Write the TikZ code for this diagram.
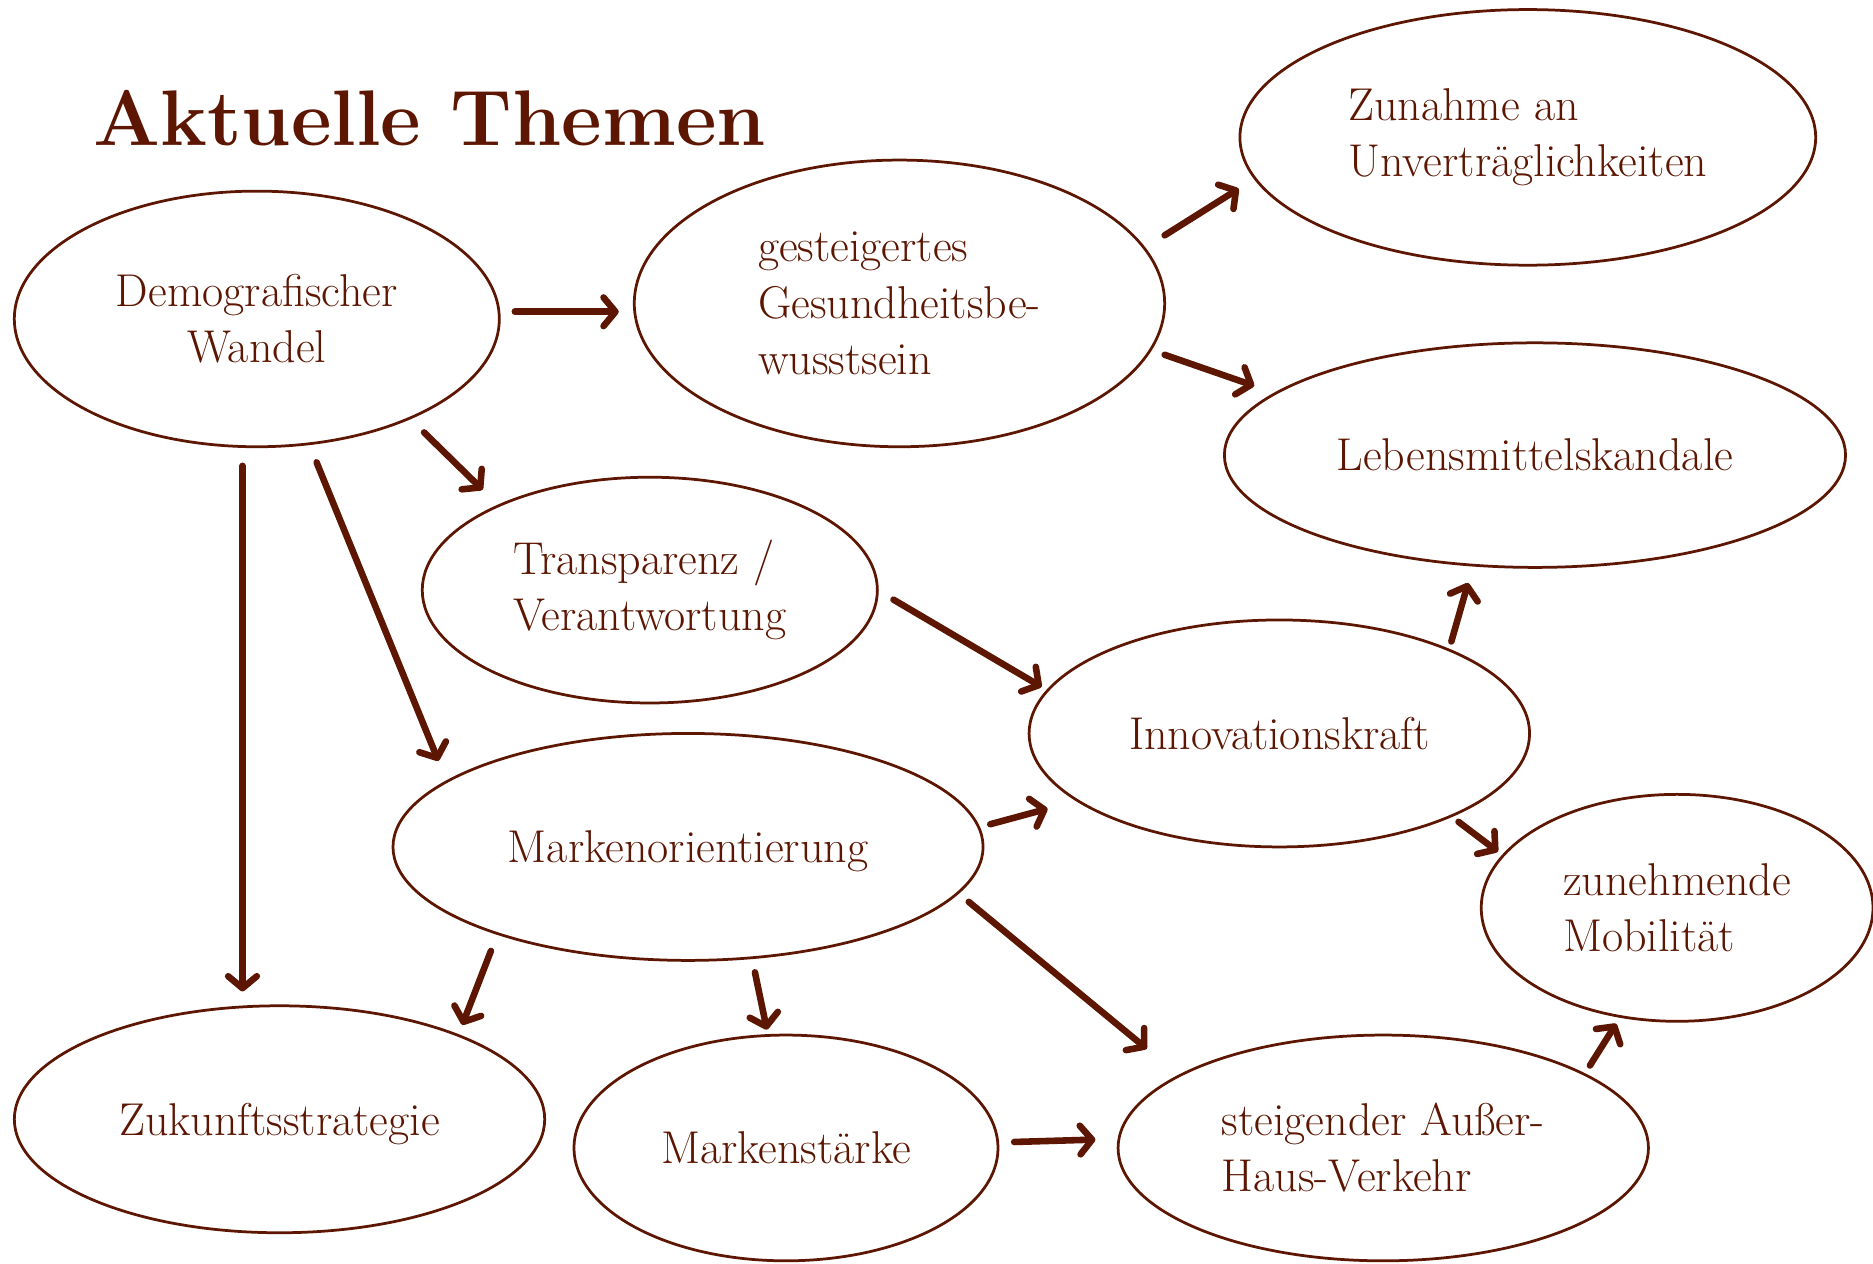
\documentclass[tikz,border=0pt]{standalone}
\usetikzlibrary{shapes.geometric,arrows.meta}
\definecolor{brn}{RGB}{92,22,2}
\begin{document}
\begin{tikzpicture}[x=1pt,y=-1pt,
  ell/.style={draw=brn, line width=2.3pt, ellipse, inner sep=0pt, text=brn,
    font=\fontsize{38.5}{47}\selectfont, align=left},
  arr/.style={draw=brn, line width=5.5pt, line cap=round,
    -{Straight Barb[length=10pt,width=24pt,round]}},
]
\useasboundingbox (0,0) rectangle (1568,1058);
\fill[white] (0,0) rectangle (1568,1058);

\node[anchor=base west, inner sep=0pt, text=brn, font=\fontsize{66}{70}\selectfont\bfseries]
  (title) at (78,122) {Aktuelle Themen};

\node[ell, align=center, minimum width=406pt, minimum height=214pt] (dw) at (215,267) {Demografischer\\Wandel};
\node[ell, minimum width=444pt, minimum height=240pt] (gg) at (753,254) {gesteigertes\\Gesundheitsbe-\\wusstsein};
\node[ell, minimum width=482pt, minimum height=214pt] (zu) at (1279,115) {Zunahme an\\Unverträglichkeiten};
\node[ell, minimum width=520pt, minimum height=188pt] (lm) at (1285,381) {Lebensmittelskandale};
\node[ell, minimum width=381pt, minimum height=189pt] (tv) at (544,494) {Transparenz /\\Verantwortung};
\node[ell, minimum width=419pt, minimum height=190pt] (ik) at (1071,614) {Innovationskraft};
\node[ell, text depth=0pt, minimum width=494pt, minimum height=190pt] (mo) at (576,709) {Markenorientierung};
\node[ell, minimum width=328pt, minimum height=190pt] (zm) at (1404,760) {zunehmende\\Mobilität};
\node[ell, text depth=0pt, minimum width=444pt, minimum height=190pt] (zs) at (234,937) {Zukunftsstrategie};
\node[ell, text depth=0pt, minimum width=355pt, minimum height=189pt] (ms) at (658,961) {Markenstärke};
\node[ell, minimum width=444pt, minimum height=189pt] (sh) at (1158,961) {steigender Außer-\\Haus-Verkehr};

% arrow end points
\coordinate (dw-gg-s) at (431,261);  \coordinate (dw-gg-e) at (518,261);
\coordinate (gg-zu-s) at (975,197);  \coordinate (gg-zu-e) at (1037,158);
\coordinate (gg-lm-s) at (975,297);  \coordinate (gg-lm-e) at (1050,323);
\coordinate (dw-tv-s) at (355,362);  \coordinate (dw-tv-e) at (404,410);
\coordinate (dw-zs-s) at (203,390);  \coordinate (dw-zs-e) at (203,830);
\coordinate (dw-mo-s) at (265,387);  \coordinate (dw-mo-e) at (367,637);
\coordinate (tv-ik-s) at (748,502);  \coordinate (tv-ik-e) at (872,575);
\coordinate (ik-lm-s) at (1215,537); \coordinate (ik-lm-e) at (1229,488);
\coordinate (mo-ik-s) at (829,690);  \coordinate (mo-ik-e) at (877,677);
\coordinate (ik-zm-s) at (1221,688); \coordinate (ik-zm-e) at (1254,713);
\coordinate (mo-zs-s) at (411,796);  \coordinate (mo-zs-e) at (387,858);
\coordinate (mo-ms-s) at (632,814);  \coordinate (mo-ms-e) at (642,862);
\coordinate (mo-sh-s) at (811,755);  \coordinate (mo-sh-e) at (960,878);
\coordinate (ms-sh-s) at (849,956);  \coordinate (ms-sh-e) at (917,954);
\coordinate (sh-zm-s) at (1331,892); \coordinate (sh-zm-e) at (1353,857);

\foreach \c in {dw-gg,gg-zu,gg-lm,dw-tv,dw-zs,dw-mo,tv-ik,ik-lm,mo-ik,ik-zm,mo-zs,mo-ms,mo-sh,ms-sh,sh-zm}
  \draw[arr] (\c-s) -- (\c-e);
\end{tikzpicture}
\end{document}
